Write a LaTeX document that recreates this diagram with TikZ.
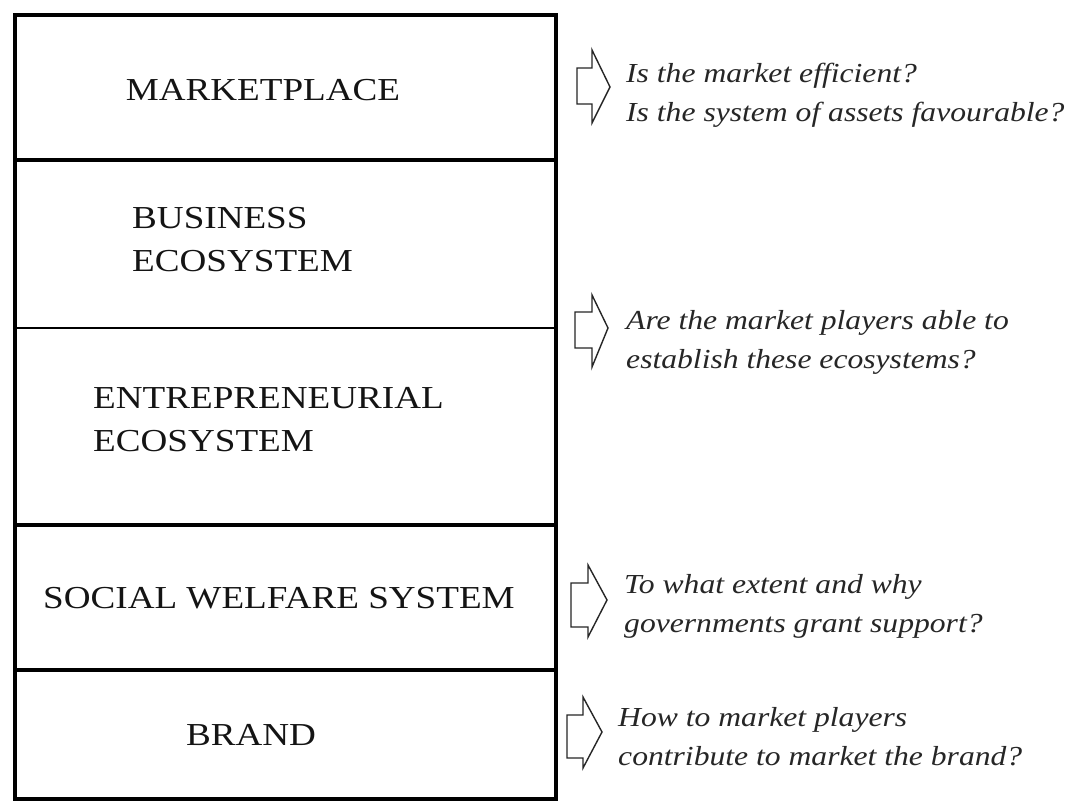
\documentclass[tikz,border=0pt]{standalone}
\usepackage{fontspec}
\setmainfont{Liberation Serif}[FakeStretch=1.16]
\newfontfamily\qfont{Liberation Serif}[FakeStretch=1.15]
\begin{document}
\begin{tikzpicture}[x=1pt,y=-1pt,
  frame/.style={line width=4pt, draw=black, line cap=rect},
  thinrule/.style={line width=1.5pt, draw=black},
  layer/.style={font=\fontsize{32}{43}\selectfont, text=black!92, inner sep=0pt, align=left},
  question/.style={font=\qfont\itshape\fontsize{27.5}{39}\selectfont, text=black!85, inner sep=0pt, anchor=base west, align=left},
  qarrow/.style={draw=black!85, line width=1.4pt, line join=miter}]
\useasboundingbox (0,0) rectangle (1078,801);
\fill[white] (0,0) rectangle (1078,801);

% stacked layers
\draw[frame] (14.5,14.5) rectangle (556,799);
\draw[frame] (14.5,160) -- (556,160);
\draw[thinrule] (14.5,328) -- (556,328);
\draw[frame] (14.5,525) -- (556,525);
\draw[frame] (14.5,670) -- (556,670);

% layer names (multi-line nodes are placed by the baseline of their last line)
\node[layer, anchor=base] (market) at (263,100) {MARKETPLACE};
\node[layer, anchor=base west] (business) at (132,271) {BUSINESS\\ECOSYSTEM};
\node[layer, anchor=base west] (entre) at (93,451) {ENTREPRENEURIAL\\ECOSYSTEM};
\node[layer, anchor=base] (welfare) at (279,608) {SOCIAL WELFARE SYSTEM};
\node[layer, anchor=base] (brand) at (251,745) {BRAND};

% block arrows
\draw[qarrow] (577,68) -- (592,68) -- (592,50) -- (610,87) -- (592,123) -- (592,104) -- (577,104) -- cycle;
\draw[qarrow] (575,312) -- (592,312) -- (592,295) -- (608,328) -- (592,367) -- (592,348) -- (575,348) -- cycle;
\draw[qarrow] (571,583) -- (588,583) -- (588,565) -- (607,600) -- (588,637) -- (588,627) -- (571,627) -- cycle;
\draw[qarrow] (567,715) -- (583,715) -- (583,697) -- (602,732) -- (583,768) -- (583,758) -- (567,758) -- cycle;

% questions
\node[question] (q1) at (626,121) {Is the market efficient?\\Is the system of assets favourable?};
\node[question] (q2) at (626,368) {Are the market players able to\\establish these ecosystems?};
\node[question] (q3) at (624,632) {To what extent and why\\governments grant support?};
\node[question] (q4) at (618,765) {How to market players\\contribute to market the brand?};
\end{tikzpicture}
\end{document}
